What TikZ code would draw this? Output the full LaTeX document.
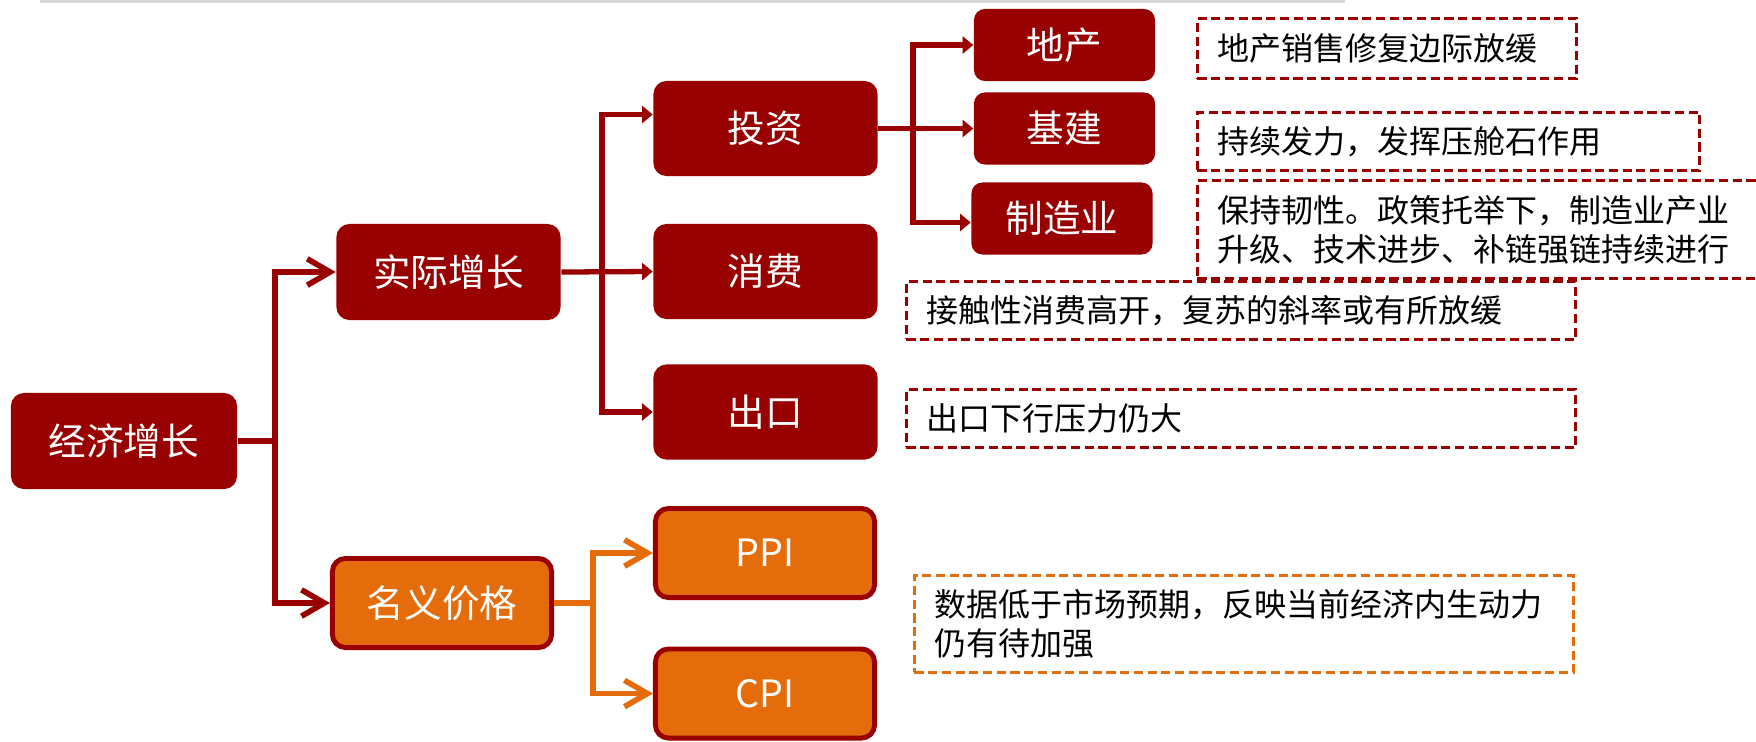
\documentclass[tikz,border=0pt]{standalone}
\usepackage{fontspec}
\setmainfont{Noto Sans CJK SC}
\usetikzlibrary{arrows.meta}

\definecolor{darkred}{RGB}{153,0,0}
\definecolor{orangefill}{RGB}{228,108,10}

\tikzset{
  box/.style={rectangle, rounded corners=0.13cm, fill=darkred, text=white,
    font=\fontsize{10.7pt}{12pt}\selectfont, inner sep=0pt,
    minimum width=2.24cm, minimum height=0.95cm},
  smallbox/.style={box, rounded corners=0.11cm, minimum width=1.81cm, minimum height=0.72cm},
  pricebox/.style={box, fill=orangefill, draw=darkred, line width=1.4pt,
    minimum width=2.19cm, minimum height=0.89cm},
  notebox/.style={draw=darkred, dash pattern=on 2.6pt off 1.3pt, line width=0.8pt,
    anchor=north west, align=left, inner xsep=0.2cm, inner ysep=0pt,
    font=\fontsize{9.1pt}{11.1pt}\selectfont},
  barb/.style={draw=darkred, line width=1.6pt, -{Straight Barb[length=6.5pt,width=7.5pt]}},
  obarb/.style={barb, draw=orangefill},
  tri/.style={draw=darkred, line width=1.5pt, -{Triangle[length=3pt,width=4.8pt]}},
}

\begin{document}
\begin{tikzpicture}[x=0.01cm, y=-0.01cm]
  \clip (0,0) rectangle (1756,741);
  % rule at the top
  \draw[gray!30, line width=0.85pt] (40,1) -- (1345,1);

  % boxes of the tree
  \node[box, minimum width=2.26cm, minimum height=0.96cm] (econ) at (124,441) {经济增长};
  \node[box, minimum height=0.96cm] (real) at (448.5,272) {实际增长};
  \node[pricebox] (nom) at (442,603) {名义价格};
  \node[box] (inv) at (765.5,128.5) {投资};
  \node[box] (cons) at (765.5,271.5) {消费};
  \node[box] (exp) at (765.5,412) {出口};
  \node[pricebox] (ppi) at (765,553) {PPI};
  \node[pricebox] (cpi) at (765,693.5) {CPI};
  \node[smallbox] (land) at (1064.5,45) {地产};
  \node[smallbox] (infra) at (1064.5,128.5) {基建};
  \node[smallbox] (mfg) at (1062,218.5) {制造业};

  % dashed notes
  \node[notebox, text width=3.39cm, minimum height=0.6cm] (nland) at (1196,17) {地产销售修复边际放缓};
  \node[notebox, text width=4.62cm, minimum height=0.58cm] (ninfra) at (1196,111) {持续发力，发挥压舱石作用};
  \node[notebox, text width=5.6cm, minimum height=0.98cm] (nmfg) at (1196,179) {保持韧性。政策托举下，制造业产业\\升级、技术进步、补链强链持续进行};
  \node[notebox, text width=6.29cm, minimum height=0.58cm] (ncons) at (905,280) {接触性消费高开，复苏的斜率或有所放缓};
  \node[notebox, text width=6.29cm, minimum height=0.58cm] (nexp) at (905,388) {出口下行压力仍大};
  \node[notebox, draw=orangefill, text width=6.19cm, minimum height=0.97cm] (nprice) at (913,574) {数据低于市场预期，反映当前经济内生动力\\仍有待加强};

  % connectors
  \coordinate (jl) at (275,441);
  \draw[barb] (econ.east) -- (jl) |- (real.west);
  \draw[barb] (jl) |- (nom.west);

  \coordinate (jr) at (602,271.5);
  \draw[tri] (real.east) -- (cons.west);
  \draw[tri] (jr) |- ([yshift=0.14cm]inv.west);
  \draw[tri] (jr) |- (exp.west);

  \coordinate (ji) at (913,128.5);
  \draw[tri] (inv.east) -- (infra.west);
  \draw[tri] (ji) |- (land.west);
  \draw[tri] (ji) |- ([yshift=-0.04cm]mfg.west);

  \coordinate (jo) at (593,603);
  \draw[obarb] (nom.east) -- (jo) |- (ppi.west);
  \draw[obarb] (jo) |- (cpi.west);
\end{tikzpicture}
\end{document}
